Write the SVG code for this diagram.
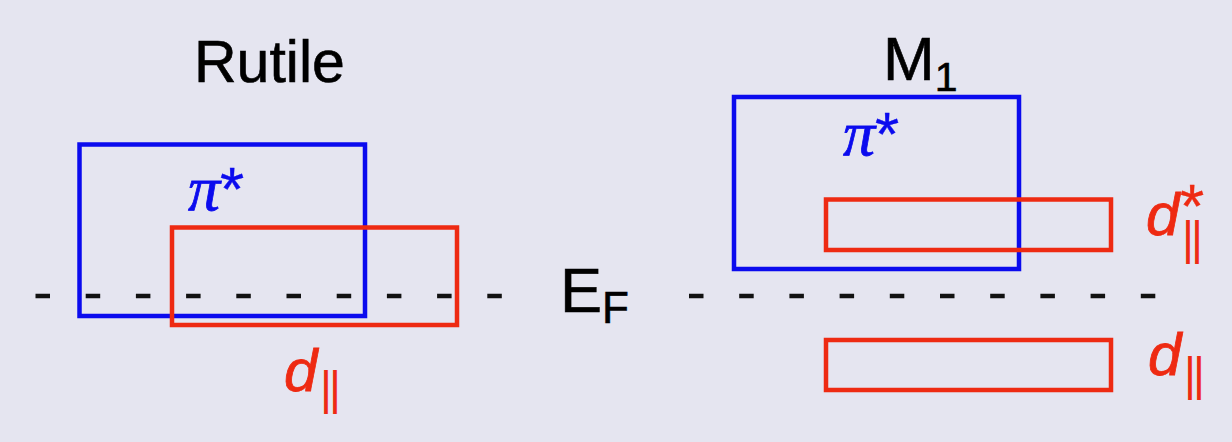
<svg xmlns="http://www.w3.org/2000/svg" width="1232" height="442" viewBox="0 0 1232 442">
  <style>
    .bg { fill: #E5E5F0; }
    .band { fill: none; stroke-width: 4.5; }
    .blue { stroke: #0B0BEE; }
    .red { stroke: #EE2A12; }
    .ef { stroke: #111; stroke-width: 4.5; stroke-dasharray: 14.5 35.7; fill: none; }
    .title { font-family: "Liberation Sans", Arial, sans-serif; fill: #000; stroke: #000; stroke-width: 0.6; }
    .pi { font-family: "Liberation Serif", "Times New Roman", serif; font-style: italic; fill: #0B0BEE; stroke: #0B0BEE; stroke-width: 0.8; font-size: 64px; }
    .star { font-family: "Liberation Sans", Arial, sans-serif; font-style: normal; font-size: 62px; stroke-width: 0.4; }
    .d { font-family: "Liberation Sans", Arial, sans-serif; font-style: italic; fill: #EE2A12; stroke: #EE2A12; stroke-width: 0.8; font-size: 60px; }
    .par { font-style: normal; font-size: 46px; letter-spacing: -3px; stroke-width: 0; }
  </style>

  <rect class="bg" x="0" y="0" width="1232" height="442"/>

  <!-- Fermi level -->
  <g id="fermi-level">
    <line class="ef" x1="35.5" y1="296" x2="505" y2="296"/>
    <line class="ef" x1="689" y1="296" x2="1160" y2="296"/>
    <text class="title" x="560" y="312" font-size="63">E<tspan font-size="44" dy="11">F</tspan></text>
  </g>

  <!-- Rutile phase -->
  <g id="rutile">
    <text class="title" x="194" y="82" font-size="59">Rutile</text>
  </g>
  <g id="rutile-pi">
    <rect class="band blue" x="79.5" y="144.5" width="285.5" height="171.5"/>
    <text class="pi" x="188" y="210">π<tspan class="star">*</tspan></text>
  </g>
  <g id="rutile-d">
    <rect class="band red" x="172" y="227.5" width="285" height="97.5"/>
    <text class="d" x="284" y="391">d<tspan class="par" x="320" y="404">||</tspan></text>
  </g>

  <!-- M1 phase -->
  <g id="m1">
    <text class="title" x="883" y="80" font-size="62">M<tspan font-size="41" dy="11">1</tspan></text>
  </g>
  <g id="m1-pi">
    <rect class="band blue" x="734" y="97" width="285" height="172"/>
    <text class="pi" x="843" y="155">π<tspan class="star">*</tspan></text>
  </g>
  <g id="m1-d-antibonding">
    <rect class="band red" x="826" y="199.5" width="285" height="50.5"/>
    <text class="d" x="1146" y="235">d<tspan class="star" x="1180" y="227" font-size="52">*</tspan><tspan class="par" x="1182" y="254">||</tspan></text>
  </g>
  <g id="m1-d-bonding">
    <rect class="band red" x="826" y="340" width="285" height="50"/>
    <text class="d" x="1148" y="375">d<tspan class="par" x="1184" y="390">||</tspan></text>
  </g>
</svg>
